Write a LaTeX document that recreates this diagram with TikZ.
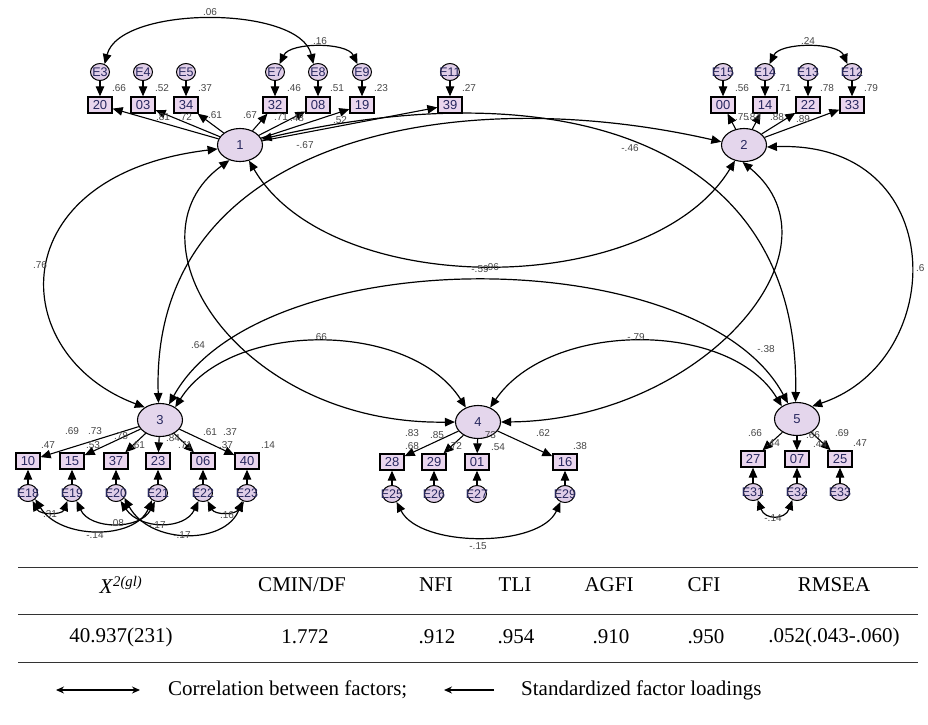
\documentclass[tikz,border=0pt]{standalone}
\usepackage{fontspec}
\setmainfont{Liberation Serif}
\setsansfont{Liberation Sans}
\usetikzlibrary{arrows.meta,shapes.geometric}
\definecolor{facfill}{RGB}{228,214,236}
\definecolor{obsfill}{RGB}{234,214,238}
\definecolor{errfill}{RGB}{224,206,232}
\definecolor{navy}{RGB}{40,40,95}
\definecolor{labc}{RGB}{70,70,70}
\begin{document}
\begin{tikzpicture}[x=1pt,y=-1pt,
  fac/.style={ellipse,draw,line width=1.1pt,fill=facfill,minimum width=45pt,minimum height=33pt,inner sep=0pt,font=\sffamily\fontsize{13}{13}\selectfont,text=navy},
  obs/.style={rectangle,draw,line width=1.3pt,fill=obsfill,minimum width=24pt,minimum height=16pt,inner sep=0.5pt,font=\sffamily\fontsize{13}{13}\selectfont,text=navy},
  err/.style={ellipse,draw,line width=1pt,fill=errfill,minimum width=19pt,minimum height=17pt,inner sep=0pt},
  etxt/.style={font=\sffamily\fontsize{12.5}{12.5}\selectfont,text=navy,inner sep=0pt},
  lab/.style={font=\sffamily\fontsize{10}{10}\selectfont,text=labc,inner sep=0pt},
  tab/.style={font=\fontsize{21}{21}\selectfont,inner sep=0pt},
  tip/.tip={Triangle[length=10pt,width=8.5pt]},
  load/.style={line width=1.1pt,-tip},
  cov/.style={line width=1.2pt,tip-tip},
  rule/.style={line width=0.8pt,draw=black!80}]
\useasboundingbox (0,0) rectangle (928,724);
% factors
\node[fac] (f1) at (240,145) {1};
\node[fac] (f2) at (744,145) {2};
\node[fac] (f3) at (160,420) {3};
\node[fac] (f4) at (478,422) {4};
\node[fac] (f5) at (797,419) {5};
% top observed / errors
\foreach \e/\x/\b/\r in {3/100/20/.66, 4/143/03/.52, 5/186/34/.37, 7/275/32/.46, 8/318/08/.51, 9/362/19/.23, 11/450/39/.27, 15/723/00/.56, 14/765/14/.71, 13/808/22/.78, 12/852/33/.79}{
  \node[err,label={[etxt]center:E\e}] (e\e) at (\x,72) {};
  \node[obs] (o\e) at (\x,105) {\b};
  \node[lab] at (\x+19,88) {\r};
  \draw[load] (e\e) -- (o\e);
}
\foreach \e in {3,4,5,7,8,9,11}{\draw[load] (f1) -- (o\e);}
\foreach \e in {15,14,13,12}{\draw[load] (f2) -- (o\e);}
% bottom observed / errors
\foreach \e/\x/\b in {18/28/10, 19/72/15, 20/116/37, 21/158/23, 22/203/06, 23/247/40}{
  \node[obs] (o\e) at (\x,461) {\b};
  \node[err,label={[etxt]center:E\e}] (e\e) at (\x,493) {};
  \draw[load] (e\e) -- (o\e);
  \draw[load] (f3) -- (o\e);
}
\foreach \e/\x/\b in {25/392/28, 26/434/29, 27/477/01, 29/565/16}{
  \node[obs] (o\e) at (\x,462) {\b};
  \node[err,label={[etxt]center:E\e}] (e\e) at (\x,494) {};
  \draw[load] (e\e) -- (o\e);
  \draw[load] (f4) -- (o\e);
}
\foreach \e/\x/\b in {31/753/27, 32/797/07, 33/840/25}{
  \node[obs] (o\e) at (\x,459) {\b};
  \node[err,label={[etxt]center:E\e}] (e\e) at (\x,492) {};
  \draw[load] (e\e) -- (o\e);
  \draw[load] (f5) -- (o\e);
}
% loading labels top
\foreach \t/\x/\y in {.81/163/117, .72/185/117, .61/215/115, .67/250/115, .71/281/117, .48/297/118, .52/340/120,
  .75/742/117, .84/754/117, .88/777/117, .89/803/119}{\node[lab] at (\x,\y) {\t};}
% loading labels bottom
\foreach \t/\x/\y in {.69/72/431, .73/95/431, .47/48/445, .53/93/445, .78/121/436, .61/138/445, .84/173/438, .71/185/445, .61/210/432, .37/230/432, .37/226/445, .14/268/445,
  .83/412/433, .68/412/446, .85/437/435, .72/455/446, .73/489/435, .54/498/447, .62/543/433, .38/580/446,
  .66/755/433, .44/773/443, .66/813/435, .44/820/444, .69/842/433, .47/860/443}{\node[lab] at (\x,\y) {\t};}
% error covariances top
\draw[cov] (e3.60) .. controls (120,5) and (300,5) .. (e8.120);
\draw[cov] (e7.60) .. controls (290,42) and (347,42) .. (e9.120);
\draw[cov] (e14.60) .. controls (780,42) and (838,42) .. (e12.120);
\node[lab] at (210,12) {.06};
\node[lab] at (320,41) {.16};
\node[lab] at (808,41) {.24};
% error covariances bottom
\draw[cov] (e18.-60) .. controls (40,515) and (62,515) .. (e19.-120);
\draw[cov] (e18.-40) .. controls (60,540) and (135,540) .. (e21.-130);
\draw[cov] (e19.-60) .. controls (90,530) and (140,530) .. (e21.-110);
\draw[cov] (e20.-60) .. controls (140,530) and (185,530) .. (e22.-120);
\draw[cov] (e20.-30) .. controls (150,545) and (225,545) .. (e23.-120);
\draw[cov] (e22.-60) .. controls (215,515) and (235,515) .. (e23.-110);
\draw[cov] (e25.-60) .. controls (420,548) and (540,548) .. (e29.-120);
\draw[cov] (e31.-60) .. controls (765,520) and (785,520) .. (e32.-120);
\foreach \t/\x/\y in {.31/50/514, .08/117/523, -.14/95/535, -.17/157/525, -.17/182/535, .16/227/515, -.15/478/546, -.14/773/518}{\node[lab] at (\x,\y) {\t};}
% factor correlations
\draw[cov] (f1.190) .. controls (0,175) and (5,355) .. (f3.140);
\draw[cov] (f1.235) .. controls (120,240) and (240,425) .. (f4.west);
\draw[cov] (f1.300) .. controls (330,300) and (650,300) .. (f2.240);
\draw[cov] (f1.15) .. controls (560,70) and (800,140) .. (f5.95);
\draw[cov] (f2.172) .. controls (450,80) and (150,140) .. (f3.95);
\draw[cov] (f2.265) .. controls (850,250) and (700,420) .. (f4.east);
\draw[cov] (f2.-5) .. controls (950,140) and (950,360) .. (f5.40);
\draw[cov] (f3.40) .. controls (230,320) and (410,320) .. (f4.130);
\draw[cov] (f4.50) .. controls (550,320) and (730,320) .. (f5.140);
\draw[cov] (f3.60) .. controls (260,240) and (700,240) .. (f5.120);
\node[lab] at (305,145) {-.67};
\node[lab] at (630,148) {-.46};
\node[lab] at (40,265) {.76};
\node[lab,anchor=west] at (916,268) {.6};
\node[lab] at (480,269) {-.59};
\node[lab] at (492,267) {.96};
\node[lab] at (198,345) {.64};
\node[lab] at (320,337) {.66};
\node[lab] at (636,337) {-.79};
\node[lab] at (766,349) {-.38};
% table
\coordinate (l1a) at (18,567); \coordinate (l1b) at (918,567);
\coordinate (l2a) at (18,614); \coordinate (l2b) at (918,614);
\coordinate (l3a) at (18,662); \coordinate (l3b) at (918,662);
\draw[rule] (l1a) -- (l1b);
\draw[rule] (l2a) -- (l2b);
\draw[rule] (l3a) -- (l3b);
\node[tab] (h1) at (121,585) {\textit{X}\textsuperscript{\textit{2(gl)}}};
\node[tab] (h2) at (302,585) {CMIN/DF};
\node[tab] (h3) at (436,585) {NFI};
\node[tab] (h4) at (515,585) {TLI};
\node[tab] (h5) at (609,585) {AGFI};
\node[tab] (h6) at (704,585) {CFI};
\node[tab] (h7) at (834,585) {RMSEA};
\node[tab] (v1) at (121,637) {40.937(231)};
\node[tab] (v2) at (305,637) {1.772};
\node[tab] (v3) at (437,637) {.912};
\node[tab] (v4) at (516,637) {.954};
\node[tab] (v5) at (611,637) {.910};
\node[tab] (v6) at (706,637) {.950};
\node[tab] (v7) at (834,637) {.052(.043-.060)};
% legend
\coordinate (da) at (56,690); \coordinate (db) at (140,690);
\draw[line width=1.2pt,{Stealth[length=8pt,width=7pt]}-{Stealth[length=8pt,width=7pt]}] (da) -- (db);
\node[tab,anchor=west] (lg1) at (168,690) {Correlation between factors;};
\coordinate (sa) at (494,690); \coordinate (sb) at (444,690);
\draw[line width=1.2pt,-{Stealth[length=8pt,width=7pt]}] (sa) -- (sb);
\node[tab,anchor=west] (lg2) at (521,690) {Standardized factor loadings};
\end{tikzpicture}
\end{document}
